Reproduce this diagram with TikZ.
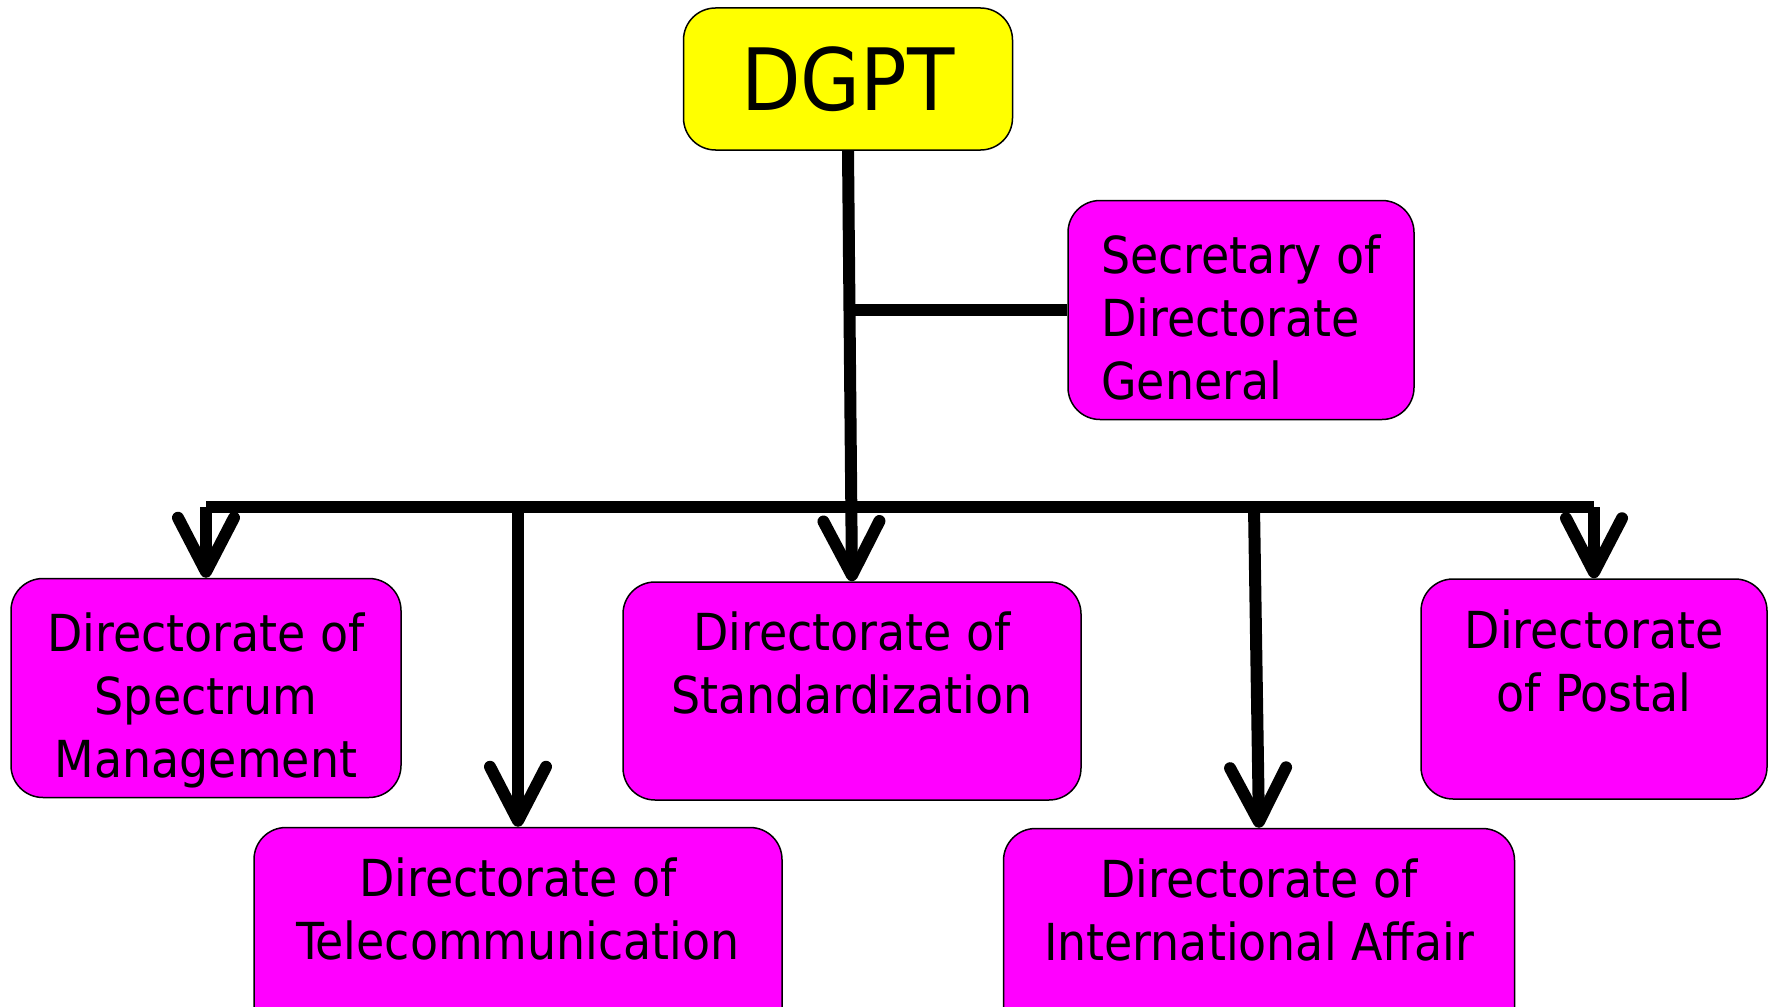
\documentclass[tikz,border=0pt]{standalone}
\usepackage{fontspec}
\setmainfont{DejaVu Sans Condensed}
\usetikzlibrary{arrows.meta}

\definecolor{dirpink}{RGB}{255,0,255}
\definecolor{headyellow}{RGB}{255,255,0}
\newcommand{\toppad}[1][64pt]{\rule{0pt}{#1}}

\begin{document}
\begin{tikzpicture}[x=1pt,y=-1pt,
  main node/.style={rectangle,rounded corners=32pt,draw,line width=1.5pt,align=center,inner sep=0pt,font=\fontsize{51}{63}\selectfont},
  dir node/.style={main node,fill=dirpink},
  link/.style={line width=12pt},
  arrow/.style={link,-{Straight Barb[length=54pt,width=56pt,round]}}]

  \useasboundingbox (0,0) rectangle (1771,1006);

  \node[main node,fill=headyellow,minimum width=329pt,minimum height=142pt,font=\fontsize{86}{100}\selectfont] (dgpt) at (848,79) {DGPT};
  \node[dir node,align=left,minimum width=346pt,minimum height=219pt] (sec) at (1241,310) {\toppad[54pt]Secretary of\\Directorate\\General};
  \node[dir node,minimum width=390pt,minimum height=219pt] (spec) at (206,688) {\toppad Directorate of\\Spectrum\\Management};
  \node[dir node,minimum width=458pt,minimum height=218pt] (std) at (852,691) {\toppad Directorate of\\Standardization\\\strut};
  \node[dir node,minimum width=346pt,minimum height=220pt] (post) at (1594,689) {\toppad Directorate\\of Postal\\\strut};
  \node[dir node,minimum width=528pt,minimum height=219pt] (tele) at (518,937) {\toppad Directorate of\\Telecommunication\\\strut};
  \node[dir node,minimum width=511pt,minimum height=219pt] (intl) at (1259,938) {\toppad Directorate of\\International Affair\\\strut};

  \coordinate (bar) at (0,507);

  \draw[link,line cap=square] (spec.north |- bar) -- (post.north |- bar);
  \draw[link] (dgpt.south |- sec.west) -- (sec.west);
  \draw[arrow] (dgpt.south) -- (std.north);
  \draw[arrow] (spec.north |- bar) -- (spec.north);
  \draw[arrow] (tele.north |- bar) -- (tele.north);
  \draw[arrow] ([xshift=-5pt]intl.north |- bar) -- (intl.north);
  \draw[arrow] (post.north |- bar) -- (post.north);
\end{tikzpicture}
\end{document}
